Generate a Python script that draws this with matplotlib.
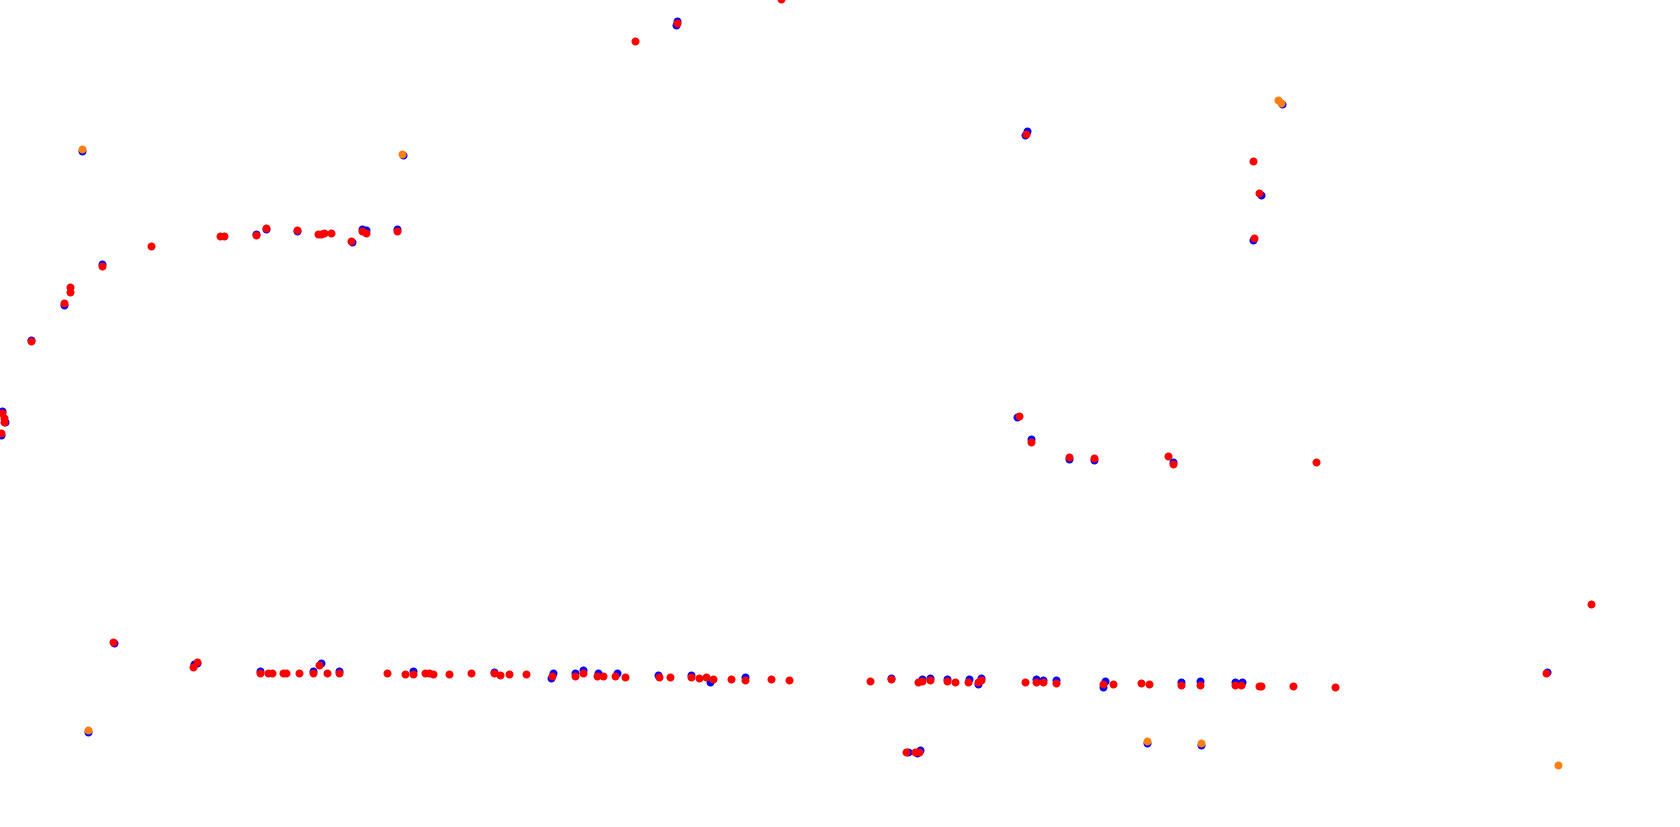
import matplotlib
matplotlib.use("Agg")
import matplotlib.pyplot as plt

# point positions (plot units = pixels, y grows downward)
blue_x = [82, 403, 31, 64, 102, 256, 266, 297, 352, 362, 366, 397, 2, 5, 1,
          114, 194, 197, 260, 313, 321, 339, 413, 88,
          494, 553, 551, 575, 583, 598, 617, 658, 691, 710, 745,
          1017, 1031, 1069, 1094, 1173, 891, 922, 930, 947, 969, 978, 981,
          1036, 1043, 1056, 1105, 1103, 1181, 1200, 1235, 1242,
          908, 917, 920, 1147, 1201, 1547, 1025, 1027, 1261, 1253, 1282,
          677, 676]
blue_y = [151, 155, 340, 305, 264, 234, 229, 231, 242, 229, 230, 229, 411, 422, 435,
          643, 664, 663, 671, 671, 663, 671, 671, 732,
          672, 673, 678, 673, 670, 673, 673, 675, 675, 682, 677,
          417, 439, 459, 460, 462, 678, 679, 678, 679, 679, 684, 678,
          679, 680, 680, 681, 687, 682, 681, 682, 682,
          752, 753, 750, 743, 745, 672, 135, 131, 195, 240, 104,
          21, 25]

red_x = [31, 64, 70, 70, 102, 151, 220, 224, 256, 266, 297, 318, 321, 324, 331,
         351, 362, 366, 397, 2, 4, 4, 1, 113, 193, 197, 319,
         260, 268, 272, 283, 286, 299, 313, 327, 339, 387, 405, 413,
         425, 429, 433, 449, 471, 494, 500, 509, 526, 552, 575, 583, 597,
         603, 615, 625, 659, 670, 691, 699, 706, 713, 731, 745, 771, 789,
         1019, 1031, 1069, 1094, 1168, 1173,
         870, 891, 918, 922, 930, 947, 955, 968, 978, 981, 1025, 1036, 1043,
         1056, 1103, 1113, 1141, 1149, 1181, 1200, 1235, 1241, 1259,
         906, 915, 919, 1316, 1591, 1546, 1261, 1293, 1335,
         1026, 1253, 1259, 1254, 781, 677, 635]
red_y = [341, 303, 287, 292, 266, 246, 236, 236, 235, 228, 230, 234, 234, 233, 233,
         241, 231, 233, 231, 413, 418, 422, 433, 642, 667, 662, 665,
         673, 673, 673, 673, 673, 673, 673, 673, 673, 673, 674, 674,
         673, 673, 674, 674, 673, 673, 675, 674, 674, 676, 676, 673, 676,
         676, 676, 677, 677, 677, 677, 678, 677, 679, 679, 680, 679, 680,
         416, 442, 457, 458, 456, 464,
         681, 679, 682, 681, 680, 681, 682, 682, 682, 680, 682, 682, 682,
         683, 684, 684, 683, 684, 685, 685, 685, 685, 686,
         752, 752, 752, 462, 604, 673, 686, 686, 687,
         134, 161, 193, 238, -1, 23, 41]

orange_x = [82, 402, 88, 1147, 1201, 1558, 1278, 1281]
orange_y = [149, 154, 730, 741, 743, 765, 100, 103]

fig = plt.figure(figsize=(16.8, 8.27), dpi=100)
ax = fig.add_axes([0, 0, 1, 1])

ax.scatter(blue_x, blue_y, s=33, color="blue", linewidths=0, zorder=1)
ax.scatter(red_x, red_y, s=33, color="red", linewidths=0, zorder=2)
ax.scatter(orange_x, orange_y, s=33, color="#ff7f0e", linewidths=0, zorder=3)

ax.set_xlim(0, 1680)
ax.set_ylim(827, 0)
ax.axis("off")

fig.savefig("out.png", dpi=100, facecolor="white")
